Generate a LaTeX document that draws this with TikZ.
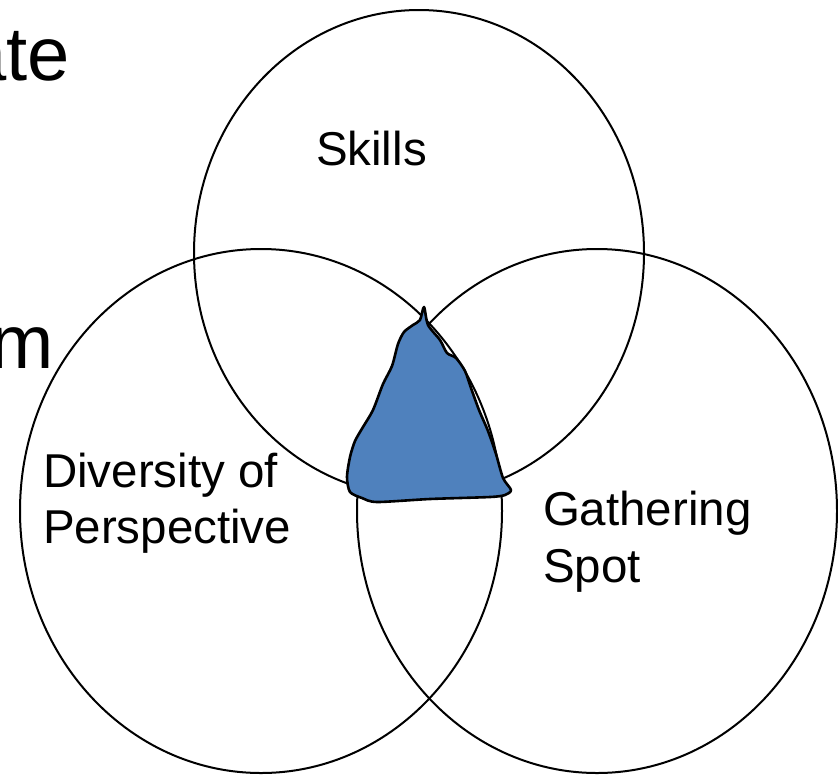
\documentclass[tikz,border=0pt]{standalone}
\usepackage{fontspec}
\setmainfont{Liberation Sans}
\begin{document}
\begin{tikzpicture}[x=1pt,y=-1pt,
  ring/.style={draw=black,line width=2pt},
  lbl/.style={inner sep=0pt,outer sep=0pt,align=left,
    font=\fontsize{47.5}{56.5}\selectfont},
  big/.style={inner sep=0pt,outer sep=0pt,font=\fontsize{76}{90}\selectfont},
  core/.style={draw=black,fill=coreblue,line width=2.6pt,line join=round}]
\definecolor{coreblue}{HTML}{4F81BD}
\useasboundingbox (0,0) rectangle (838,774);
\clip (0,0) rectangle (838,774);

% cut-off words of the slide text behind the diagram
\node[big,anchor=base east] (ate) at (70,80) {ate};
\node[big,anchor=base east] (mword) at (54,368) {m};

% the three overlapping rings
\draw[ring] (419,253) ellipse [x radius=225, y radius=243];
\draw[ring] (261,511) ellipse [x radius=241, y radius=262];
\draw[ring] (597,511) ellipse [x radius=240, y radius=262];

% hand-drawn shaded core where all three meet
\draw[core] plot[smooth cycle,tension=0.45] coordinates {
  (424,307) (428,325) (440,340) (447,353) (456,358) (465,371)
  (471,388) (479,410) (488,431) (496,454) (503,478) (511,490)
  (505,495) (490,497) (430,499) (377,502) (362,498) (350,492)
  (347,477) (350,457) (355,441) (363,427) (373,410) (383,384)
  (392,366) (398,344) (404,332) (413,325) (420,320)};

% ring labels
\node[lbl,anchor=base west] (skills) at (316,165) {Skills};
\node[lbl,anchor=base west] (diversity) at (43,487) {Diversity of};
\node[lbl,anchor=base west] (perspective) at (43,543) {Perspective};
\node[lbl,anchor=base west] (gathering) at (543,525) {Gathering};
\node[lbl,anchor=base west] (spot) at (543,582) {Spot};
\end{tikzpicture}
\end{document}
